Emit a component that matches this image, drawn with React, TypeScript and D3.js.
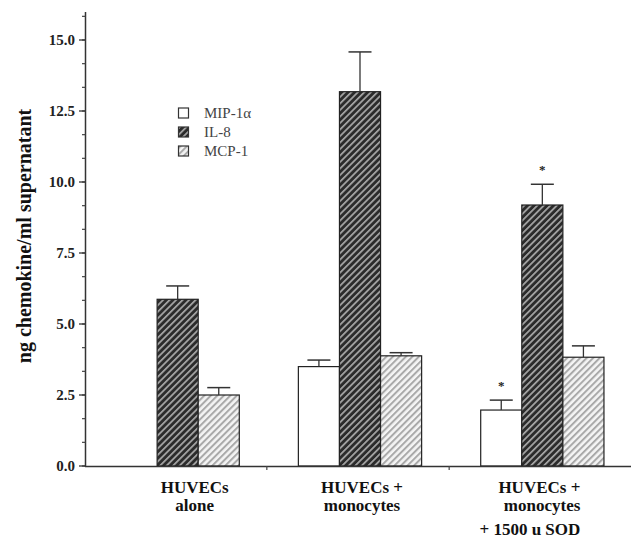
import React from "react";
import * as d3 from "d3";

const groups = ["g1", "g2", "g3"];
const groupLines = [
  ["HUVECs", "alone"],
  ["HUVECs +", "monocytes"],
  ["HUVECs +", "monocytes", "+ 1500 u SOD"],
];
const seriesNames = ["MIP-1α", "IL-8", "MCP-1"];
const mip = [0, 3.5, 1.97];
const mipErr = [0, 0.23, 0.35];
const il8 = [5.87, 13.18, 9.19];
const il8Err = [0.47, 1.4, 0.73];
const mcp = [2.5, 3.88, 3.83];
const mcpErr = [0.26, 0.11, 0.4];
const mipStar = [false, false, true];
const il8Star = [false, false, true];
const yTicks = [0, 2.5, 5, 7.5, 10, 12.5, 15];

export default function App() {
  const W = 631, H = 540;
  const y = d3.scaleLinear().domain([0, 15]).range([466, 40]);
  const x0 = d3.scaleBand().domain(groups).range([86.5, 633.5]).paddingInner(0.324).paddingOuter(0.162);
  const x1 = d3.scaleBand().domain(seriesNames).range([0, x0.bandwidth()]);
  const fills = ["#ffffff", "url(#darkHatch)", "url(#lightHatch)"];
  const vals = [mip, il8, mcp];
  const errs = [mipErr, il8Err, mcpErr];
  const stars = [mipStar, il8Star, null];
  const minor = d3.range(0, 16 + 1e-9, 2.5 / 3);
  const serif = "'Liberation Serif', 'DejaVu Serif', serif";
  const labelOffsets = [17, 2, 38];
  const labelAnchors = ["middle", "middle", "end"];
  const lineYs = [493, 511, 535];
  const legendY = d3.scaleBand().domain(seriesNames).range([104, 161]);

  return (
    <svg width={W} height={H} style={{ position: "absolute", left: 0, top: 0 }}>
      <defs>
        <pattern id="darkHatch" patternUnits="userSpaceOnUse" width="4.6" height="4.6" patternTransform="rotate(45)">
          <rect width="4.6" height="4.6" fill="#2b2b2b" />
          <rect x="0" width="1.7" height="4.6" fill="#a8a8a8" />
        </pattern>
        <pattern id="lightHatch" patternUnits="userSpaceOnUse" width="4.6" height="4.6" patternTransform="rotate(45)">
          <rect width="4.6" height="4.6" fill="#f4f4f4" />
          <rect x="0" width="2" height="4.6" fill="#a9a9a9" />
        </pattern>
      </defs>
      <rect width={W} height={H} fill="#fff" />
      {groups.map((g, gi) =>
        seriesNames.map((s, si) => {
          const v = vals[si][gi];
          if (v <= 0) return null;
          const bx = (x0(g) as number) + (x1(s) as number);
          const bw = x1.bandwidth();
          const cx = bx + bw / 2;
          const top = y(v);
          const et = y(v + errs[si][gi]);
          const st = stars[si] && stars[si]![gi];
          return (
            <g key={g + s}>
              <rect x={bx} y={top} width={bw} height={466 - top} fill={fills[si]} stroke="#222" strokeWidth={1.2} />
              <line x1={cx} x2={cx} y1={top} y2={et} stroke="#333" strokeWidth={1.3} />
              <line x1={cx - 11.5} x2={cx + 11.5} y1={et} y2={et} stroke="#333" strokeWidth={1.5} />
              {st && (
                <text x={cx} y={et - 10} textAnchor="middle" fontFamily={serif} fontWeight="bold" fontSize={13} fill="#222">*</text>
              )}
            </g>
          );
        })
      )}
      <line x1={85.5} x2={85.5} y1={12} y2={467} stroke="#333" strokeWidth={1.5} />
      {minor.map((t, i) => (
        <line key={"m" + i} x1={82} x2={85.5} y1={y(t)} y2={y(t)} stroke="#444" strokeWidth={1.2} />
      ))}
      {yTicks.map((t) => (
        <g key={"t" + t}>
          <line x1={79} x2={85.5} y1={y(t)} y2={y(t)} stroke="#333" strokeWidth={1.3} />
          <text x={75} y={y(t) + 5} textAnchor="end" fontFamily={serif} fontWeight="bold" fontSize={15} fill="#222">
            {d3.format(".1f")(t)}
          </text>
        </g>
      ))}
      <line x1={85} x2={631} y1={466.5} y2={466.5} stroke="#333" strokeWidth={1.5} />
      {[1, 2].map((i) => {
        const xm = ((x0(groups[i - 1]) as number) + x0.bandwidth() + (x0(groups[i]) as number)) / 2 - 2;
        return <line key={"xt" + i} x1={xm} x2={xm} y1={466} y2={470} stroke="#444" strokeWidth={1.2} />;
      })}
      {groups.map((g, gi) => {
        const cx = (x0(g) as number) + x0.bandwidth() / 2 + labelOffsets[gi];
        return groupLines[gi].map((ln, li) => (
          <text key={g + li} x={cx} y={lineYs[li]} textAnchor={labelAnchors[gi]} fontFamily={serif} fontWeight="bold" fontSize={17} fill="#111">
            {ln}
          </text>
        ));
      })}
      <text transform="translate(31,236) rotate(-90)" textAnchor="middle" fontFamily={serif} fontWeight="bold" fontSize={20} fill="#111">
        ng chemokine/ml supernatant
      </text>
      {seriesNames.map((s, si) => {
        const ly = (legendY(s) as number) + 4;
        return (
          <g key={"lg" + s}>
            <rect x={178.5} y={ly} width={10} height={10} fill={fills[si]} stroke="#333" strokeWidth={1.2} />
            <text x={204} y={ly + 10} fontFamily={serif} fontSize={15} fill="#444">{s}</text>
          </g>
        );
      })}
    </svg>
  );
}
